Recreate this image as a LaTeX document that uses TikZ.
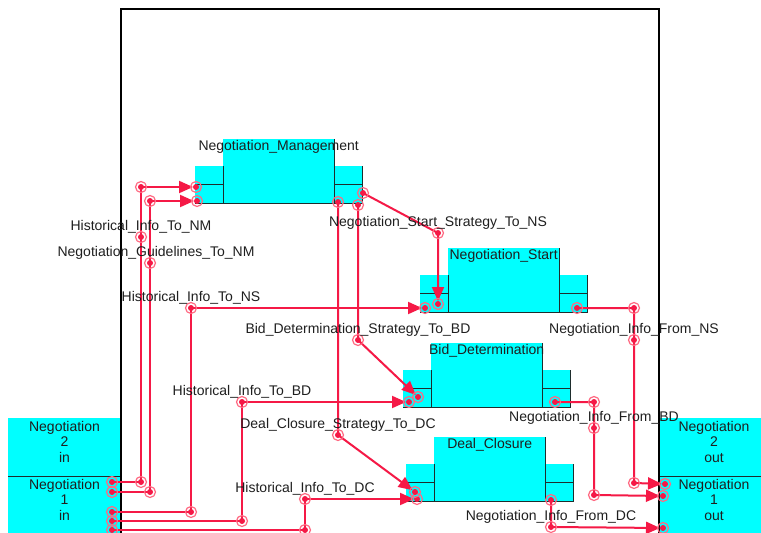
\documentclass[tikz,border=0pt]{standalone}
\usepackage{fontspec}
\setmainfont{Liberation Sans}
\usetikzlibrary{arrows.meta,calc}
\definecolor{cy}{RGB}{0,255,255}
\definecolor{rd}{RGB}{245,25,70}
\definecolor{rg}{RGB}{255,105,130}
\definecolor{edgec}{RGB}{30,45,45}
\newcommand\rbedge[1]{\draw[edgeline] (#1.north east) -- (#1.south east) -- (#1.south west);}
\newcommand\mycomp[4]{%
 \node[body, anchor=north west] (#1) at (#2,#3) {};
 \node[port, minimum height=18pt, anchor=north east] (#1l1) at ([yshift=-27pt]#1.north west) {};
 \node[port, minimum height=19pt, anchor=north] (#1l2) at (#1l1.south) {};
 \node[port, minimum height=18pt, anchor=north west] (#1r1) at ([yshift=-27pt]#1.north east) {};
 \node[port, minimum height=19pt, anchor=north] (#1r2) at (#1r1.south) {};
 \rbedge{#1}\rbedge{#1l1}\rbedge{#1l2}\rbedge{#1r1}\rbedge{#1r2}
 \node[lbl] (#1t) at ([yshift=-11.5pt]#1.north) {#4};
}
\newcommand\mk[1]{\fill[rd] (#1) circle (3pt); \draw[rg, line width=1.2pt] (#1) circle (5.5pt);}
\tikzset{
 body/.style={rectangle, fill=cy, draw=none, minimum width=111pt, minimum height=64pt, inner sep=0pt},
 port/.style={rectangle, fill=cy, draw=none, minimum width=28pt, inner sep=0pt},
 edgeline/.style={draw=edgec, line width=1pt},
 lbl/.style={anchor=base, inner sep=0pt, text=black!88},
 conn/.style={draw=rd, line width=2pt, line join=miter},
 arr/.style={conn, -{Triangle[length=14pt,width=12pt]}, shorten >=3pt},
 iobox/.style={rectangle, fill=cy, draw=none, minimum width=113pt, inner sep=0pt},
}
\begin{document}
\begin{tikzpicture}[x=1pt, y=-1pt, font=\fontsize{14}{15.5}\selectfont]
\path[use as bounding box, clip] (0,0) rectangle (761,533);
\fill[white] (0,0) rectangle (761,533);
% frame
\draw[black, line width=1.2pt] (121,545) -- (121,9) -- (659,9) -- (659,545);
% io boxes
\node[iobox, minimum height=58pt, anchor=north west] (in2) at (8,418) {};
\node[iobox, minimum height=70pt, anchor=north west] (in1) at (8,476) {};
\node[iobox, minimum height=58pt, anchor=north west] (out2) at (659,418) {};
\node[iobox, minimum height=70pt, anchor=north west] (out1) at (659,476) {};
\draw[edgeline] (in2.south west) -- (in2.south east);
\draw[edgeline] (out2.south west) -- (out2.south east);
\draw[black, line width=1.2pt] (121,418) -- (121,545);
\draw[black, line width=1.2pt] (659,418) -- (659,545);
\node[lbl] (in2a) at (64.5,431) {Negotiation};
\node[lbl] (in2b) at (64.5,446.5) {2};
\node[lbl] (in2c) at (64.5,462) {in};
\node[lbl] (in1a) at (64.5,489) {Negotiation};
\node[lbl] (in1b) at (64.5,504.5) {1};
\node[lbl] (in1c) at (64.5,520) {in};
\node[lbl] (out2a) at (714,431) {Negotiation};
\node[lbl] (out2b) at (714,446.5) {2};
\node[lbl] (out2c) at (714,462) {out};
\node[lbl] (out1a) at (714,489) {Negotiation};
\node[lbl] (out1b) at (714,504.5) {1};
\node[lbl] (out1c) at (714,520) {out};
% components
\mycomp{NM}{223}{139}{Negotiation\_Management}
\mycomp{NS}{448}{248}{Negotiation\_Start}
\mycomp{BD}{431}{343}{Bid\_Determination}
\mycomp{DC}{434}{437}{Deal\_Closure}
% coordinates
\coordinate (i1) at (112,482); \coordinate (i2) at (112,492);
\coordinate (i3) at (112,512); \coordinate (i4) at (112,521); \coordinate (i5) at (112,530);
\coordinate (a1) at (141,482); \coordinate (a2) at (141,237); \coordinate (a3) at (141,187); \coordinate (a4) at (196,187);
\coordinate (b1) at (150,492); \coordinate (b2) at (150,263); \coordinate (b3) at (150,201); \coordinate (b4) at (197,201);
\coordinate (c1) at (191,512); \coordinate (c2) at (191,308); \coordinate (c3) at (425,308);
\coordinate (d1) at (242,521); \coordinate (d2) at (242,402); \coordinate (d3) at (409,402);
\coordinate (e1) at (305,530); \coordinate (e2) at (305,499); \coordinate (e3) at (417,499);
\coordinate (f0) at (363,193); \coordinate (f1) at (438,233); \coordinate (f2) at (438,304);
\coordinate (g0) at (358,205); \coordinate (g1) at (358,340); \coordinate (g2) at (418,397);
\coordinate (h0) at (338,202); \coordinate (h1) at (338,435); \coordinate (h2) at (415,492);
\coordinate (p0) at (577,308); \coordinate (p1) at (634,308); \coordinate (p2) at (634,340); \coordinate (p3) at (634,483); \coordinate (p4) at (665,484);
\coordinate (q0) at (555,402); \coordinate (q1) at (594,402); \coordinate (q2) at (594,428); \coordinate (q3) at (594,495); \coordinate (q4) at (663,496);
\coordinate (r0) at (551,500); \coordinate (r1) at (551,527); \coordinate (r2) at (663,528);
% connectors
\draw[arr] (i1) -- (a1) -- (a2) -- (a3) -- (a4);
\draw[arr] (i2) -- (b1) -- (b2) -- (b3) -- (b4);
\draw[arr] (i3) -- (c1) -- (c2) -- (c3);
\draw[arr] (i4) -- (d1) -- (d2) -- (d3);
\draw[arr] (i5) -- (e1) -- (e2) -- (e3);
\draw[arr] (f0) -- (f1) -- (f2);
\draw[arr] (g0) -- (g1) -- (g2);
\draw[arr] (h0) -- (h1) -- (h2);
\draw[arr] (p0) -- (p1) -- (p2) -- (p3) -- (p4);
\draw[arr] (q0) -- (q1) -- (q2) -- (q3) -- (q4);
\draw[arr] (r0) -- (r1) -- (r2);
% markers
\foreach \m in {i1,i2,i3,i4,i5,a1,a2,a3,a4,b1,b2,b3,b4,c1,c2,c3,d1,d2,d3,e1,e2,e3,f0,f1,f2,g0,g1,g2,h0,h1,h2,p0,p1,p2,p3,p4,q0,q1,q2,q3,q4,r0,r1,r2}{\mk{\m}}
% labels
\node[lbl] (la) at ([yshift=7pt]a2) {Historical\_Info\_To\_NM};
\node[lbl] (lb) at ([xshift=6pt,yshift=7pt]b2) {Negotiation\_Guidelines\_To\_NM};
\node[lbl] (lc) at ([yshift=7pt]c2) {Historical\_Info\_To\_NS};
\node[lbl] (ld) at ([yshift=7pt]d2) {Historical\_Info\_To\_BD};
\node[lbl] (le) at ([yshift=7pt]e2) {Historical\_Info\_To\_DC};
\node[lbl] (lf) at ([yshift=7pt]f1) {Negotiation\_Start\_Strategy\_To\_NS};
\node[lbl] (lg) at ([yshift=7pt]g1) {Bid\_Determination\_Strategy\_To\_BD};
\node[lbl] (lh) at ([yshift=7pt]h1) {Deal\_Closure\_Strategy\_To\_DC};
\node[lbl] (lp) at ([yshift=7pt]p2) {Negotiation\_Info\_From\_NS};
\node[lbl] (lq) at ([yshift=7pt]q2) {Negotiation\_Info\_From\_BD};
\node[lbl] (lr) at ([yshift=7pt]r1) {Negotiation\_Info\_From\_DC};
\end{tikzpicture}
\end{document}
